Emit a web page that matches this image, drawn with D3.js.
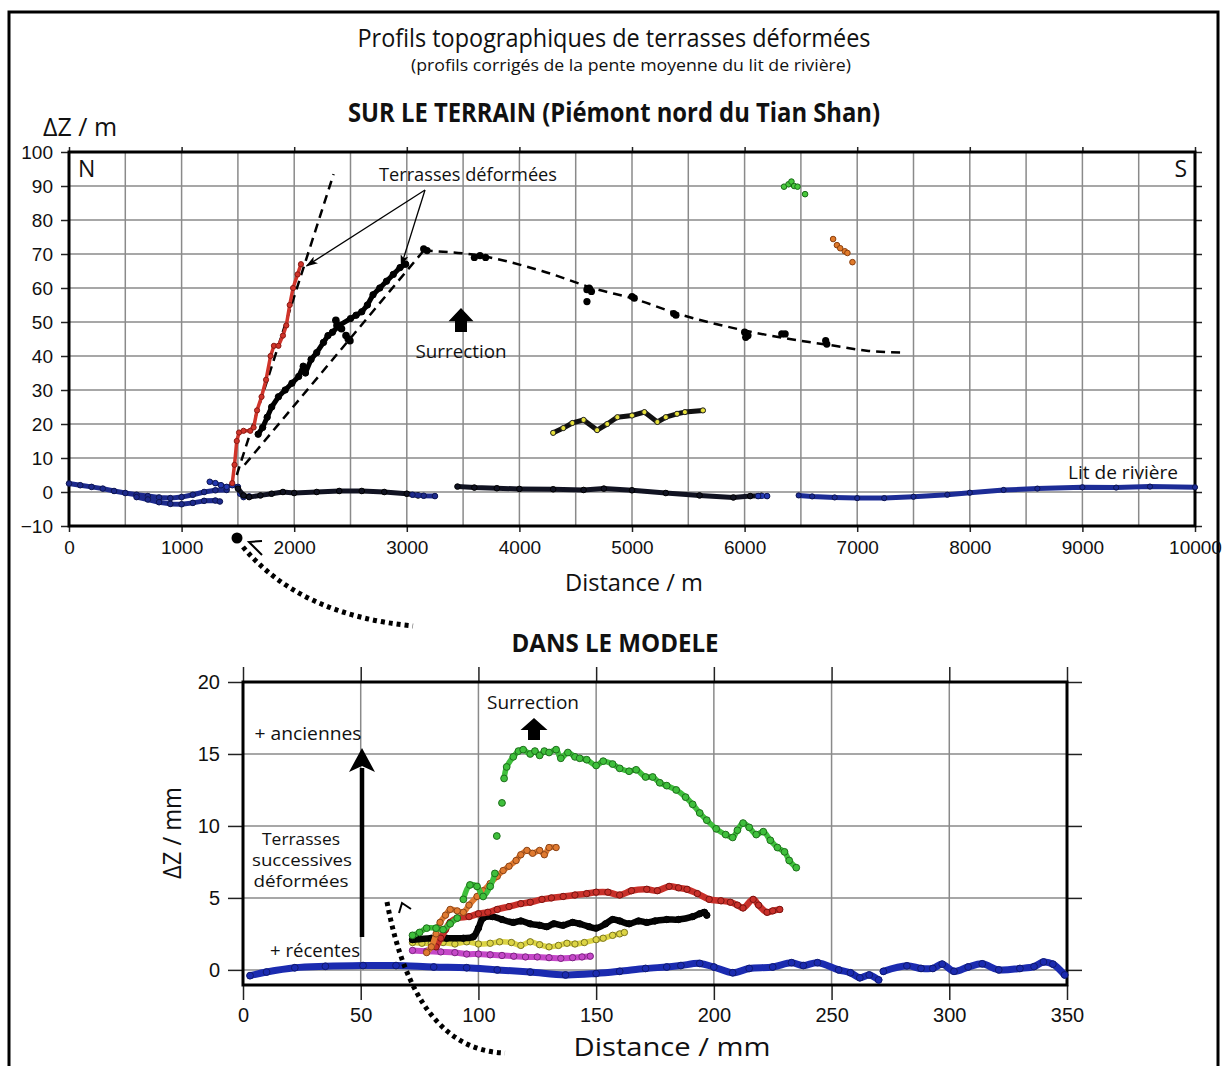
<!DOCTYPE html>
<html><head><meta charset="utf-8">
<script src="https://cdn.jsdelivr.net/npm/d3@7"></script>
<style>body{margin:0;background:#fff} svg{display:block}</style>
</head><body><svg id="c" width="1223" height="1066"></svg>
<script>
// ---------------- DATA : field profiles (Distance m, ΔZ m) ----------------
const fieldXTicks = [0,1000,2000,3000,4000,5000,6000,7000,8000,9000,10000];
const fieldYTicks = [-10,0,10,20,30,40,50,60,70,80,90,100];
const fieldGridX = [500,1000,1500,2000,2500,3000,3500,4000,4500,5000,5500,6000,6500,7000,7500,8000,8500,9000,9500];
const fieldGridY = [0,10,20,30,40,50,60,70,80,90];

const fieldRiverUpper = [[0,2.5],[100,2],[200,1.5],[300,1],[400,0.3],[500,-0.3],[600,-0.8],[700,-1.2],[800,-1.6],[900,-1.8],[1000,-1.5],[1100,-0.8],[1200,0],[1300,0.5],[1400,0.6]];
const fieldRiverLower = [[600,-1.5],[700,-2.2],[800,-3],[900,-3.5],[1000,-3.6],[1100,-3.2],[1200,-2.6],[1300,-2.5],[1340,-2.8]];
const fieldRiverStep = [[1250,3],[1300,2.6],[1350,2],[1400,1.5],[1450,2],[1500,1.5],[1520,-0.5],[1550,-1.5],[1600,-1.3]];
const fieldLowBlack1 = [[1500,1],[1550,-1],[1600,-1.5],[1700,-1],[1800,-0.5],[1900,0],[2000,-0.3],[2200,0],[2400,0.3],[2600,0.3],[2800,0],[3000,-0.5],[3100,-1]];
const fieldLowBlue1 = [[3050,-0.8],[3150,-1.1],[3250,-1.2]];
const fieldLowBlack2 = [[3450,1.6],[3600,1.3],[3800,1.1],[4000,0.9],[4300,0.8],[4570,0.6],[4750,1],[5000,0.5],[5300,-0.3],[5600,-1],[5900,-1.6],[6050,-1.2],[6150,-1.1]];
const fieldLowBlue2 = [[6120,-1.2],[6200,-1.2]];
const fieldRiverSouth = [[6480,-1],[6600,-1.3],[6800,-1.6],[7000,-1.8],[7240,-1.8],[7500,-1.4],[7800,-0.8],[8000,-0.2],[8300,0.6],[8600,1],[9000,1.4],[9300,1.3],[9600,1.6],[10000,1.4]];
const fieldRedTerrace = [[1450,2.6],[1470,8],[1490,15],[1510,17.5],[1550,18],[1610,18],[1640,19],[1670,24],[1710,28],[1750,33],[1790,40],[1820,43],[1860,43],[1900,46],[1930,49],[1960,55],[1990,60],[2030,64],[2060,67]];
const fieldBlackTerrace = [[1680,17],[1720,19],[1760,22],[1800,25],[1860,28],[1920,30],[1980,32],[2040,34],[2080,37],[2100,35],[2150,39],[2200,41],[2260,44],[2300,46],[2340,47],[2400,49],[2500,51],[2550,52],[2600,53],[2650,55],[2700,58],[2760,60],[2820,62],[2880,64],[2940,66],[2990,67]];
const fieldBlackIsolated = [[2370,50.5],[2380,49],[2420,48],[2460,46],[2480,45],[2495,44.5]];
const fieldUpperClusters = [[3150,71.5],[3180,71],[3600,69],[3650,69.5],[3700,69],[4600,59.5],[4620,60],[4640,59],[4600,56],[5000,57.5],[5020,57],[5370,52.5],[5390,52],[6000,47],[6010,45.5],[6030,46],[6330,46.5],[6360,46.5],[6720,44.5],[6730,43.5]];
const fieldYellowTerrace = [[4300,17.4],[4390,18.8],[4470,20.3],[4570,21.2],[4690,18.2],[4780,20],[4870,22],[5000,22.5],[5110,23.5],[5225,20.6],[5300,22],[5400,23],[5470,23.5],[5630,24]];
const fieldGreen = [[6350,89.8],[6390,90.5],[6416,91.3],[6440,90],[6470,89.8],[6537,87.6]];
const fieldOrange = [[6786,74.4],[6820,72.6],[6849,71.7],[6890,70.8],[6913,70.3],[6958,67.6]];
const fieldDashSteep = [[1490,5],[2350,93.5]];
const fieldDashRise = [[1560,8],[3150,71]];
const fieldDashFall = [[3150,71],[3650,69.5],[4200,65],[4700,59.5],[5000,57],[5400,52.5],[6000,47.5],[6400,45],[6800,43],[7100,41.5],[7400,41]];

// ---------------- DATA : model profiles (Distance mm, ΔZ mm) ----------------
const modelXTicks = [0,50,100,150,200,250,300,350];
const modelYTicks = [0,5,10,15,20];
const modelGridX = [50,100,150,200,250,300];
const modelGridY = [0,5,10,15];

const modelBlue1 = [[3,-0.4],[10,-0.15],[22,0.15],[35,0.25],[51,0.3],[65,0.3],[81,0.2],[95,0.15],[108,0],[122,-0.15],[137,-0.35],[150,-0.25],[160,-0.1],[171,0.1],[180,0.2],[186,0.3],[194,0.45],[200,0.2],[208,-0.2],[215,0.1],[225,0.2],[233,0.5],[238,0.3],[244,0.5],[253,0],[258,-0.2],[262,-0.55],[266,-0.35],[270,-0.7]];
const modelBlue2 = [[272,-0.1],[282,0.28],[288,0.1],[293,0.1],[297,0.4],[302,-0.1],[308,0.2],[314,0.42],[321,0],[330,0.1],[336,0.23],[340,0.55],[344,0.4],[349,-0.35]];
const modelMagenta = [[72,1.35],[78,1.3],[84,1.25],[90,1.2],[95,1.1],[100,1.1],[105,1.05],[110,1.0],[115,0.95],[120,0.9],[125,0.9],[130,0.85],[135,0.8],[140,0.85],[144,0.9],[147.5,0.95]];
const modelYellow = [[72,1.9],[76,1.85],[80,1.85],[85,1.9],[90,1.8],[95,1.95],[100,1.8],[105,1.85],[109,1.95],[114,1.9],[118,1.7],[122,1.95],[126,1.75],[130,1.6],[134,1.7],[137.6,1.85],[141,1.8],[145,1.9],[150,2.1],[153,2.2],[157,2.4],[160,2.5],[162,2.6]];
const modelBlack = [[72,2.1],[80,2.2],[86.5,2.2],[93.6,2.2],[97.8,2.3],[100,2.9],[102,3.6],[106,3.7],[110,3.5],[114.8,3.3],[118,3.4],[122,3.2],[126,3.1],[129,3.0],[132,3.2],[136,3.1],[140,3.3],[143,3.2],[147,3.0],[150,2.9],[154,3.2],[157,3.5],[160,3.4],[164,3.2],[168,3.4],[171.5,3.3],[175,3.4],[180,3.5],[185,3.5],[191,3.7],[194,3.9],[196,4.0],[197,3.8]];
const modelRed = [[82,1.6],[84,2.2],[86,2.8],[88,3.3],[91,3.6],[96,3.7],[100,3.9],[104,4.0],[108,4.2],[113,4.4],[118,4.6],[122,4.7],[127,4.9],[131,5.0],[136,5.1],[141,5.2],[146,5.3],[150,5.4],[155,5.4],[160,5.2],[165,5.5],[171.5,5.6],[176,5.5],[181,5.8],[185,5.7],[188.6,5.6],[193,5.3],[198,4.9],[203,4.8],[207,4.7],[210,4.5],[212.4,4.3],[216.7,4.9],[219,4.5],[222.6,4.0],[225,4.1],[228,4.2]];
const modelOrange = [[78,1.2],[80,1.6],[82,2.5],[83.7,3.3],[86,3.8],[88,4.2],[91,4.1],[93.6,4.0],[96,4.5],[99.4,5.1],[102,5.5],[105,6.0],[108,6.5],[110.5,6.9],[113,7.2],[116,7.6],[118,8.0],[120.6,8.3],[123,8.1],[126,8.3],[128,8.0],[130,8.5],[133,8.5]];
const modelGreen = [[72,2.4],[75,2.6],[78,2.9],[82,2.9],[85,2.8],[88,3.2],[91,3.6],[93.6,4.9],[96.4,5.9],[99.4,5.8],[102,5.1],[105,5.8],[107,6.7],[107.8,9.3],[110,11.6],[110.9,13.3],[112,14.1],[114.8,14.8],[117,15.2],[119,15.3],[122,15.0],[124,15.2],[126,14.9],[128,15.2],[130,15.1],[133,15.3],[135,14.7],[138,15.1],[141,14.8],[143,14.7],[146,14.6],[150,14.2],[153,14.5],[157,14.3],[160,14.0],[164,13.8],[167,13.9],[171,13.4],[174,13.4],[177,13.0],[180,12.8],[184,12.5],[188,12.0],[191,11.5],[194,10.9],[197,10.4],[201,9.8],[205,9.4],[208,9.2],[210,9.7],[212.4,10.2],[215,9.9],[218,9.4],[221,9.6],[224,9.0],[227,8.5],[230,8.2],[232,7.6],[235,7.1]];

// ---------------- DRAWING ----------------
const svg = d3.select("#c");
const SANS = "'Open Sans', 'DejaVu Sans', sans-serif";
const TICKF = "'Liberation Sans', Arial, sans-serif";
const fmt = d3.format("d");

const defs = svg.append("defs");
defs.append("marker").attr("id","ah").attr("viewBox","0 0 12 8").attr("refX",11).attr("refY",4)
  .attr("markerWidth",12).attr("markerHeight",8).attr("markerUnits","userSpaceOnUse").attr("orient","auto")
  .append("path").attr("d","M0,0 L12,4 L0,8 L3,4 Z").attr("fill","#000");

// outer figure border
svg.append("rect").attr("x",9).attr("y",12).attr("width",1209).attr("height",1090)
  .attr("fill","none").attr("stroke","#000").attr("stroke-width",3);

function txt(g, x, y, s, opts) {
  const t = g.append("text").attr("x",x).attr("y",y).text(s)
    .attr("font-family", opts.family || SANS).attr("font-size", opts.size)
    .attr("font-weight", opts.weight || "normal").attr("text-anchor", opts.anchor || "middle").attr("fill","#111");
  if (opts.len) t.attr("textLength", opts.len).attr("lengthAdjust","spacingAndGlyphs");
  return t;
}

// titles
txt(svg, 614, 47, "Profils topographiques de terrasses déformées", {size:26, len:513});
txt(svg, 631, 71, "(profils corrigés de la pente moyenne du lit de rivière)", {size:17, len:440});
txt(svg, 614, 122, "SUR LE TERRAIN (Piémont nord du Tian Shan)", {size:26, weight:"bold", len:532});
txt(svg, 43, 136, "ΔZ / m", {size:25, anchor:"start", len:74});

// ====== TOP CHART ======
const xT = d3.scaleLinear().domain([0,10000]).range([69,1195]);
const yT = d3.scaleLinear().domain([-10,100]).range([526,152]);
const gT = svg.append("g");

gT.selectAll(".gx").data(fieldGridX).join("line").attr("x1",d=>xT(d)).attr("x2",d=>xT(d))
  .attr("y1",yT(100)).attr("y2",yT(-10)).attr("stroke","#8a8a8a").attr("stroke-width",1.5);
gT.selectAll(".gy").data(fieldGridY).join("line").attr("y1",d=>yT(d)).attr("y2",d=>yT(d))
  .attr("x1",xT(0)).attr("x2",xT(10000)).attr("stroke","#8a8a8a").attr("stroke-width",1.5);

function styleAxis(g, size) {
  g.select(".domain").remove();
  g.selectAll(".tick line").attr("stroke","#222").attr("stroke-width",1.5);
  g.selectAll("text").attr("font-family",TICKF).attr("font-size",size).attr("fill","#111");
}
const axL = gT.append("g").attr("transform",`translate(${xT(0)},0)`)
  .call(d3.axisLeft(yT).tickValues(fieldYTicks).tickSize(8).tickPadding(8).tickFormat(fmt));
styleAxis(axL, 19);
const axB = gT.append("g").attr("transform",`translate(0,${yT(-10)})`)
  .call(d3.axisBottom(xT).tickValues(fieldXTicks).tickSize(6).tickPadding(9).tickFormat(fmt));
styleAxis(axB, 19);
const axTop = gT.append("g").attr("transform",`translate(0,${yT(100)})`)
  .call(d3.axisTop(xT).tickValues(fieldXTicks).tickSize(5).tickFormat(""));
styleAxis(axTop, 0);
const axR = gT.append("g").attr("transform",`translate(${xT(10000)},0)`)
  .call(d3.axisRight(yT).tickValues(fieldYTicks).tickSize(7).tickFormat(""));
styleAxis(axR, 0);

gT.append("rect").attr("x",xT(0)).attr("y",yT(100)).attr("width",xT(10000)-xT(0)).attr("height",yT(-10)-yT(100))
  .attr("fill","none").attr("stroke","#000").attr("stroke-width",3);

const lineT = d3.line().x(d=>xT(d[0])).y(d=>yT(d[1]));

function seriesT(data, color, edge, w, r, dotColor) {
  gT.append("path").attr("d",lineT(data)).attr("fill","none").attr("stroke",color)
    .attr("stroke-width",w).attr("stroke-linejoin","round").attr("stroke-linecap","round");
  gT.append("g").selectAll("circle").data(data).join("circle")
    .attr("cx",d=>xT(d[0])).attr("cy",d=>yT(d[1])).attr("r",r)
    .attr("fill",dotColor||color).attr("stroke",edge).attr("stroke-width",1);
}

// dashed fitted curves
const dashStyle = p => p.attr("fill","none").attr("stroke","#000").attr("stroke-width",2.5).attr("stroke-dasharray","9,6");
dashStyle(gT.append("path").attr("d",lineT(fieldDashSteep)));
dashStyle(gT.append("path").attr("d",lineT(fieldDashRise)));
dashStyle(gT.append("path").attr("d",d3.line().x(d=>xT(d[0])).y(d=>yT(d[1])).curve(d3.curveMonotoneX)(fieldDashFall)));

seriesT(fieldRiverUpper, "#1d2a8c", "#0d1550", 5, 2.8);
seriesT(fieldRiverLower, "#1d2a8c", "#0d1550", 5, 2.8);
seriesT(fieldRiverStep, "#2338b0", "#0d1550", 4, 2.8);
seriesT(fieldLowBlack1, "#111322", "#000", 5, 2.8);
seriesT(fieldLowBlue1, "#1d2a8c", "#0d1550", 5, 2.8);
seriesT(fieldLowBlack2, "#111322", "#000", 5, 2.8);
seriesT(fieldLowBlue2, "#2338b0", "#0d1550", 5, 2.8);
seriesT(fieldRiverSouth, "#1c2c96", "#0d1550", 5, 2.6);
seriesT(fieldBlackTerrace, "#000", "#000", 5, 3.2);
gT.append("g").selectAll("circle").data(fieldBlackIsolated).join("circle")
  .attr("cx",d=>xT(d[0])).attr("cy",d=>yT(d[1])).attr("r",3.8).attr("fill","#000");
seriesT(fieldRedTerrace, "#d0342a", "#8a1a14", 3.5, 2.6);
gT.append("g").selectAll("circle").data(fieldUpperClusters).join("circle")
  .attr("cx",d=>xT(d[0])).attr("cy",d=>yT(d[1])).attr("r",3.6).attr("fill","#000");
seriesT(fieldYellowTerrace, "#111", "#222", 5, 2.6, "#e6e03c");
gT.append("g").selectAll("circle").data(fieldGreen).join("circle")
  .attr("cx",d=>xT(d[0])).attr("cy",d=>yT(d[1])).attr("r",2.8).attr("fill","#48c83c").attr("stroke","#1a6a18").attr("stroke-width",1);
gT.append("g").selectAll("circle").data(fieldOrange).join("circle")
  .attr("cx",d=>xT(d[0])).attr("cy",d=>yT(d[1])).attr("r",2.8).attr("fill","#e07a2a").attr("stroke","#8a4010").attr("stroke-width",1);

// annotations top
txt(gT, 78, 177, "N", {size:23, anchor:"start", family:SANS});
txt(gT, 1187, 177, "S", {size:23, anchor:"end", family:SANS});
txt(gT, 468, 181, "Terrasses déformées", {size:19, len:178});
gT.append("line").attr("x1",425).attr("y1",190).attr("x2",xT(2110)).attr("y2",yT(66.5)).attr("stroke","#000").attr("stroke-width",1.3).attr("marker-end","url(#ah)");
gT.append("line").attr("x1",425).attr("y1",190).attr("x2",xT(2950)).attr("y2",yT(66.5)).attr("stroke","#000").attr("stroke-width",1.3).attr("marker-end","url(#ah)");
txt(gT, 461, 358, "Surrection", {size:19, len:91});
const blockArrow = (g, cx, ytip, h, hw, sw) => g.append("path")
  .attr("d",`M${cx},${ytip} L${cx+hw},${ytip+h*0.55} L${cx+sw},${ytip+h*0.55} L${cx+sw},${ytip+h} L${cx-sw},${ytip+h} L${cx-sw},${ytip+h*0.55} L${cx-hw},${ytip+h*0.55} Z`)
  .attr("fill","#000");
blockArrow(gT, 461, 308, 24, 12.5, 6);
txt(gT, 1178, 479, "Lit de rivière", {size:18, anchor:"end", len:110});
txt(svg, 634, 591, "Distance / m", {size:24, len:138});

// connector top (fault marker)
svg.append("circle").attr("cx",237).attr("cy",538).attr("r",5.5).attr("fill","#000");
svg.append("path").attr("d","M243,547 Q300,615 413,626").attr("fill","none").attr("stroke","#000").attr("stroke-width",5).attr("stroke-dasharray","4,4");
svg.append("path").attr("d","M262,541 L249,542 L262,555").attr("fill","none").attr("stroke","#000").attr("stroke-width",2);

// ====== BOTTOM CHART ======
txt(svg, 615, 652, "DANS LE MODELE", {size:25, weight:"bold", len:207});
const xM = d3.scaleLinear().domain([0,350]).range([243,1067]);
const yM = d3.scaleLinear().domain([-1.05,20]).range([985,682]);
const gM = svg.append("g");

gM.selectAll(".gx").data(modelGridX).join("line").attr("x1",d=>xM(d)).attr("x2",d=>xM(d))
  .attr("y1",yM(20)).attr("y2",yM(-1.05)).attr("stroke","#8a8a8a").attr("stroke-width",1.5);
gM.selectAll(".gy").data(modelGridY).join("line").attr("y1",d=>yM(d)).attr("y2",d=>yM(d))
  .attr("x1",xM(0)).attr("x2",xM(350)).attr("stroke","#8a8a8a").attr("stroke-width",1.5);

const mL = gM.append("g").attr("transform",`translate(${xM(0)},0)`)
  .call(d3.axisLeft(yM).tickValues(modelYTicks).tickSize(15).tickPadding(8).tickFormat(fmt));
styleAxis(mL, 20);
const mB = gM.append("g").attr("transform",`translate(0,${yM(-1.05)})`)
  .call(d3.axisBottom(xM).tickValues(modelXTicks).tickSize(15).tickPadding(8).tickFormat(fmt));
styleAxis(mB, 20);
const mT = gM.append("g").attr("transform",`translate(0,${yM(20)})`)
  .call(d3.axisTop(xM).tickValues(modelXTicks).tickSize(15).tickFormat(""));
styleAxis(mT, 0);
const mR = gM.append("g").attr("transform",`translate(${xM(350)},0)`)
  .call(d3.axisRight(yM).tickValues(modelYTicks).tickSize(15).tickFormat(""));
styleAxis(mR, 0);
gM.append("rect").attr("x",xM(0)).attr("y",yM(20)).attr("width",xM(350)-xM(0)).attr("height",yM(-1.05)-yM(20))
  .attr("fill","none").attr("stroke","#000").attr("stroke-width",3);

const lineM = d3.line().x(d=>xM(d[0])).y(d=>yM(d[1])).curve(d3.curveCatmullRom);
function seriesM(data, color, edge, w, r) {
  // break the drawn line where the profile jumps (isolated points stay as dots)
  const segs = []; let cur = [data[0]];
  for (let i = 1; i < data.length; i++) {
    if (Math.abs(data[i][1]-data[i-1][1]) > 1.2) { segs.push(cur); cur = []; }
    cur.push(data[i]);
  }
  segs.push(cur);
  segs.filter(s=>s.length>1).forEach(s => gM.append("path").attr("d",lineM(s)).attr("fill","none")
    .attr("stroke",color).attr("stroke-width",w).attr("stroke-linejoin","round").attr("stroke-linecap","round"));
  gM.append("g").selectAll("circle").data(data).join("circle")
    .attr("cx",d=>xM(d[0])).attr("cy",d=>yM(d[1])).attr("r",r)
    .attr("fill",color).attr("stroke",edge).attr("stroke-width",1);
}
seriesM(modelBlue1, "#1b2bb0", "#101a70", 7, 3.4);
seriesM(modelBlue2, "#1b2bb0", "#101a70", 7, 3.4);
seriesM(modelMagenta, "#c548c8", "#7a2480", 6, 3.2);
seriesM(modelYellow, "#dcd444", "#7a7420", 5.5, 3.2);
seriesM(modelBlack, "#050505", "#000", 6.5, 3.2);
seriesM(modelRed, "#c8302a", "#7a1410", 6.5, 3.2);
seriesM(modelOrange, "#e07a30", "#8a4418", 5.5, 3.2);
seriesM(modelGreen, "#3fbf3c", "#1d6e1b", 5.5, 3.4);

// annotations bottom
txt(gM, 533, 709, "Surrection", {size:19, len:92});
blockArrow(gM, 534, 718, 22, 13.5, 6);
txt(gM, 308, 740, "+ anciennes", {size:19, len:107});
gM.append("line").attr("x1",362).attr("y1",937).attr("x2",362).attr("y2",768).attr("stroke","#000").attr("stroke-width",4.5);
gM.append("path").attr("d","M362,748 L375,772 L362,766 L349,772 Z").attr("fill","#000");
txt(gM, 301, 845, "Terrasses", {size:16, len:78});
txt(gM, 302, 866, "successives", {size:16, len:100});
txt(gM, 301, 887, "déformées", {size:16, len:95});
txt(gM, 315, 957, "+ récentes", {size:19, len:90});
txt(svg, 672, 1056, "Distance / mm", {size:25, len:197});
txt(svg, 0, 0, "ΔZ / mm", {size:25, len:92}).attr("transform","translate(181,833) rotate(-90)");

// connector bottom (fault marker)
svg.append("path").attr("d","M387,902 Q415,1050 505,1053").attr("fill","none").attr("stroke","#000").attr("stroke-width",5).attr("stroke-dasharray","4,4");
svg.append("path").attr("d","M399,913 L402,903 L411,909").attr("fill","none").attr("stroke","#000").attr("stroke-width",2);
</script></body></html>
